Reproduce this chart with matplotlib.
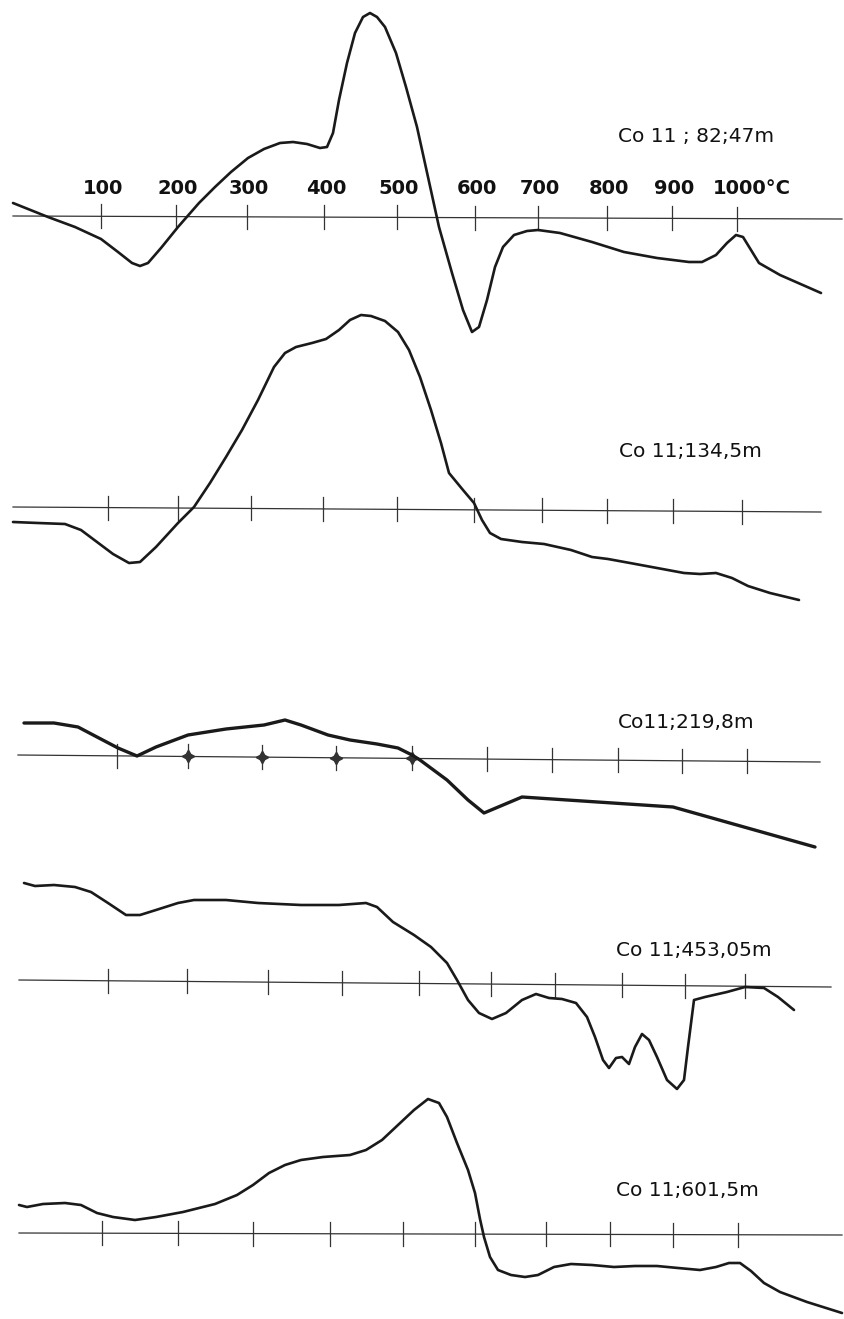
import matplotlib.pyplot as plt

plt.rcParams['font.family'] = ['DejaVu Sans']

# temperature marks (labels only printed above the first record)
temp_labels = ['100', '200', '300', '400', '500', '600', '700', '800', '900', '1000']

# samples: borehole Co 11, depth
samples = ['Co 11 ; 82;47m', 'Co 11;134,5m', 'Co11;219,8m', 'Co 11;453,05m', 'Co 11;601,5m']

# tick positions along each chart record (hand marked, not evenly spaced)
ticks1 = [101, 176, 247, 324, 397, 475, 538, 607, 672, 737]
ticks2 = [108, 178, 251, 323, 397, 474, 542, 607, 673, 742]
ticks3 = [117, 188, 262, 336, 412, 487, 552, 618, 682, 747]
ticks4 = [108, 187, 268, 342, 419, 491, 555, 622, 685, 745]
ticks5 = [102, 178, 253, 330, 403, 475, 546, 610, 673, 738]

# DTA deflection relative to baseline (chart units), along chart distance
x1 = [13, 48, 75, 101, 118, 132, 140, 148, 161, 178, 199, 215, 231, 248, 264, 280,
      293, 307, 320, 327, 333, 339, 347, 355, 363, 370, 377, 385, 396, 406, 417, 428,
      439, 452, 463, 472, 479, 487, 495, 503, 514, 527, 538, 560, 592, 624, 657, 689,
      702, 716, 727, 736, 743, 751, 759, 780, 821]
d1 = [13, -1, -11, -23, -36, -47, -50, -47, -32, -11, 13, 29, 44, 58, 67, 73,
      74, 72, 68, 69, 83, 116, 153, 183, 199, 203, 199, 189, 163, 129, 89, 39,
      -11, -57, -94, -116, -111, -84, -51, -31, -19, -15, -14, -17, -26, -36, -42, -46,
      -46, -39, -27, -19, -21, -34, -47, -59, -77]

x2 = [13, 38, 65, 81, 97, 113, 129, 140, 156, 178, 194, 210, 226, 242, 258, 274,
      285, 296, 312, 326, 339, 350, 361, 371, 385, 398, 409, 420, 431, 441, 449, 463,
      474, 482, 490, 501, 522, 544, 571, 592, 608, 630, 657, 684, 700, 716, 732, 748,
      770, 799]
d2 = [-15, -16, -17, -23, -35, -47, -56, -55, -40, -16, 0, 24, 50, 77, 107, 140,
      154, 160, 164, 168, 177, 187, 192, 191, 186, 175, 157, 130, 97, 64, 34, 17,
      4, -13, -26, -32, -35, -37, -43, -50, -52, -56, -61, -66, -67, -66, -71, -79,
      -86, -93]

x3 = [24, 54, 78, 97, 118, 137, 156, 188, 226, 264, 285, 301, 328, 350, 377, 398,
      412, 420, 447, 468, 484, 522, 673, 815]
d3 = [32, 32, 28, 18, 7, -1, 8, 20, 26, 30, 35, 30, 20, 15, 11, 7,
      0, -5, -25, -45, -58, -42, -52, -92]

x4 = [24, 35, 54, 75, 91, 108, 126, 140, 156, 178, 194, 226, 258, 301, 339, 366,
      377, 393, 414, 431, 447, 457, 468, 479, 492, 506, 522, 536, 549, 562, 576, 587,
      595, 603, 609, 616, 622, 629, 635, 642, 649, 657, 667, 677, 684, 688, 694, 705,
      727, 745, 764, 778, 794]
d4 = [97, 94, 95, 93, 88, 77, 65, 65, 70, 77, 80, 80, 77, 75, 75, 77,
      73, 58, 45, 33, 17, 0, -20, -33, -39, -33, -20, -14, -18, -19, -23, -37,
      -57, -80, -88, -78, -77, -84, -67, -54, -60, -77, -100, -109, -100, -67, -20, -17,
      -12, -7, -8, -17, -30]

x5 = [19, 27, 43, 65, 81, 97, 113, 135, 156, 183, 215, 237, 253, 269, 285, 301,
      323, 350, 366, 382, 398, 414, 428, 439, 447, 457, 468, 475, 480, 484, 490, 498,
      511, 525, 538, 554, 571, 592, 614, 635, 657, 678, 700, 716, 729, 740, 751, 764,
      780, 807, 842]
d5 = [28, 26, 29, 30, 28, 20, 16, 13, 16, 21, 29, 38, 48, 60, 68, 73,
      76, 78, 83, 93, 108, 123, 134, 130, 116, 90, 63, 40, 14, -4, -24, -37,
      -42, -44, -42, -34, -31, -32, -34, -33, -33, -35, -37, -34, -30, -30, -38, -50,
      -59, -69, -80]

# baseline of each record: vertical place on the sheet, extent, and drift
base_y = [216, 507, 755, 980, 1233]
base_x = [(13, 842), (13, 821), (18, 820), (19, 831), (19, 842)]
drift = [3, 5, 7, 7, 2]
label_dy = [79, 55, 32, 30, 43]
label_x = [618, 619, 618, 616, 616]

xs = [x1, x2, x3, x4, x5]
ds = [d1, d2, d3, d4, d5]
tks = [ticks1, ticks2, ticks3, ticks4, ticks5]
lws = [1.9, 1.9, 2.4, 1.9, 1.9]

W, H = 844, 1319
R = 350
fig = plt.figure(figsize=(W / 100, H / 100), dpi=100)
fig.patch.set_facecolor('white')

for i in range(5):
    ax = fig.add_axes([0, (H - base_y[i] - R) / H, 1, 2 * R / H])
    ax.set_xlim(0, W)
    ax.set_ylim(-R, R)
    ax.axis('off')
    ax.patch.set_alpha(0)

    x0, xe = base_x[i]
    ax.plot([x0, xe], [0, -drift[i]], color='#333333', lw=0.9)
    for t in tks[i]:
        yb = -drift[i] * (t - x0) / (xe - x0)
        ax.plot([t, t], [yb - 12, yb + 12], color='#333333', lw=0.9)
    if i == 2:
        # ink blots where the pen crossed the marks on this record
        for t in tks[i][1:5]:
            yb = -drift[i] * (t - x0) / (xe - x0)
            ax.plot(t, yb, marker=(4, 1, 0), ms=9, color='#333333')

    ax.plot(xs[i], ds[i], color='#1a1a1a', lw=lws[i],
            solid_joinstyle='round', solid_capstyle='round')

    ax.text(label_x[i], label_dy[i], samples[i], fontsize=14.5, color='#111111',
            ha='left', va='center')

    if i == 0:
        for t, lab in zip(tks[i], temp_labels):
            if lab == '1000':
                ax.text(t - 24, 28, lab + '°C', fontsize=14, fontweight='bold',
                        color='#111111', ha='left', va='center')
            else:
                ax.text(t + 2, 28, lab, fontsize=14, fontweight='bold',
                        color='#111111', ha='center', va='center')

fig.savefig('out.png', dpi=100)
